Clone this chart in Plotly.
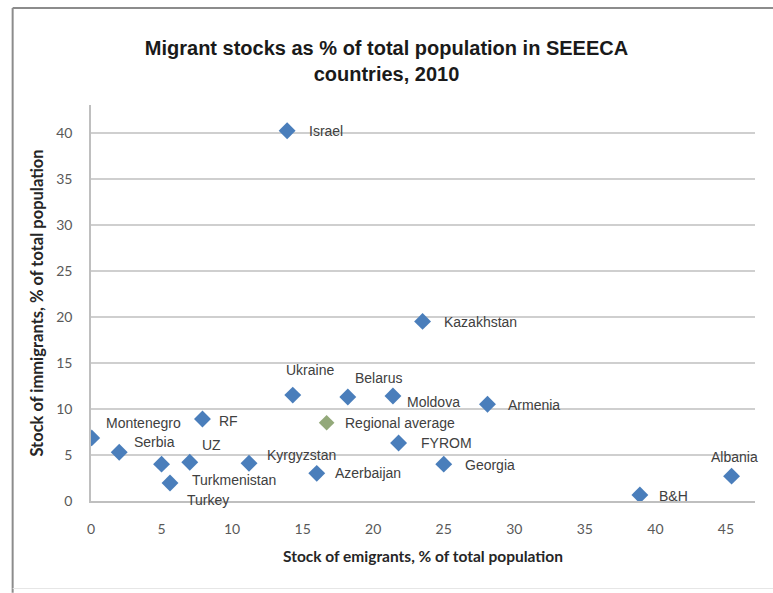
import plotly.graph_objects as go

# Migrant stock data, SEEECA countries, 2010 (% of total population)
countries = ["Israel", "Kazakhstan", "Ukraine", "Belarus", "Moldova", "Armenia",
             "FYROM", "Georgia", "Azerbaijan", "Kyrgyzstan", "Montenegro", "Serbia",
             "Turkmenistan", "UZ", "Turkey", "RF", "Albania", "B&H"]
emigrants = [13.9, 23.5, 14.3, 18.2, 21.4, 28.1,
             21.8, 25.0, 16.0, 11.2, 0.05, 2.0,
             5.0, 7.0, 5.6, 7.9, 45.4, 38.9]
immigrants = [40.2, 19.5, 11.5, 11.3, 11.4, 10.5,
              6.3, 4.0, 3.0, 4.1, 6.85, 5.3,
              4.0, 4.2, 1.95, 8.9, 2.7, 0.65]

avg_label = "Regional average"
avg_emigrants = [16.7]
avg_immigrants = [8.5]

x_ticks = [0, 5, 10, 15, 20, 25, 30, 35, 40, 45]
y_ticks = [0, 5, 10, 15, 20, 25, 30, 35, 40]

# label placement (pixel shift from marker, anchor)
label_style = {
    "Israel": (20, 0, "left"),
    "Kazakhstan": (19, -1, "left"),
    "Ukraine": (-9, 25, "left"),
    "Belarus": (5, 19, "left"),
    "Moldova": (12, -6, "left"),
    "Armenia": (19, -1, "left"),
    "FYROM": (20, 0, "left"),
    "Georgia": (19, -1, "left"),
    "Azerbaijan": (16, 0, "left"),
    "Kyrgyzstan": (16, 8, "left"),
    "Montenegro": (12, 15, "left"),
    "Serbia": (13, 10, "left"),
    "Turkmenistan": (28, -16, "left"),
    "UZ": (10, 17, "left"),
    "Turkey": (15, -17, "left"),
    "RF": (15, -2, "left"),
    "Albania": (3, 19, "center"),
    "B&H": (17, -1, "left"),
}

label_font = dict(family="Liberation Sans, Arial, sans-serif", size=14, color="#404040")

fig = go.Figure()
fig.add_trace(go.Scatter(
    x=emigrants, y=immigrants, mode="markers", text=countries,
    marker=dict(symbol="diamond", size=13, color="#4a7ebb",
                line=dict(width=0)),
    showlegend=False, hoverinfo="text",
))
fig.add_trace(go.Scatter(
    x=avg_emigrants, y=avg_immigrants, mode="markers", text=[avg_label],
    marker=dict(symbol="diamond", size=12, color="#93a97a",
                line=dict(width=0)),
    showlegend=False, hoverinfo="text",
))

annotations = []
for name, xv, yv in zip(countries, emigrants, immigrants):
    dx, dy, anchor = label_style[name]
    annotations.append(dict(x=xv, y=yv, text=name, showarrow=False,
                            xanchor=anchor, yanchor="middle",
                            xshift=dx, yshift=dy, font=label_font))
annotations.append(dict(x=avg_emigrants[0], y=avg_immigrants[0], text=avg_label,
                        showarrow=False, xanchor="left", yanchor="middle",
                        xshift=16, yshift=0, font=label_font))

# outer chart frame
frame = [
    dict(type="line", xref="paper", yref="paper", x0=-0.118, x1=1.05,
         y0=1.245, y1=1.245, line=dict(color="#8c8c8c", width=2)),
    dict(type="line", xref="paper", yref="paper", x0=-0.118, x1=-0.118,
         y0=-0.232, y1=1.245, line=dict(color="#8c8c8c", width=2)),
    dict(type="line", xref="paper", yref="paper", x0=-0.118, x1=1.05,
         y0=-0.221, y1=-0.221, line=dict(color="#e6e6e6", width=1)),
]

fig.update_layout(
    width=773, height=593,
    margin=dict(l=91, r=18, t=105, b=92),
    paper_bgcolor="white", plot_bgcolor="white",
    title=dict(
        text="<b>Migrant stocks as % of total population in SEEECA<br>countries, 2010</b>",
        x=0.5, xanchor="center", y=0.908, yanchor="middle",
        font=dict(family="Liberation Sans, Arial, sans-serif", size=20, color="#1a1a1a"),
    ),
    annotations=annotations,
    shapes=frame,
    xaxis=dict(
        range=[0, 47.06], tickvals=x_ticks, showgrid=False, zeroline=False,
        showline=True, linecolor="#bfbfbf", linewidth=1.5,
        ticks="", ticklabelstandoff=14,
        tickfont=dict(family="Lato, sans-serif", size=14, color="#595959"),
        title=dict(text="<b>Stock of emigrants, % of total population</b>",
                   font=dict(family="Lato, sans-serif", size=15.5, color="#262626"),
                   standoff=16),
    ),
    yaxis=dict(
        range=[0, 43.0], tickvals=y_ticks, showgrid=True, gridcolor="#cfcfcf",
        gridwidth=1.5, zeroline=False,
        showline=True, linecolor="#bfbfbf", linewidth=1.5,
        ticks="", ticklabelstandoff=14,
        tickfont=dict(family="Lato, sans-serif", size=14, color="#595959"),
        title=dict(text="<b>Stock of immigrants, % of total population</b>",
                   font=dict(family="Lato, sans-serif", size=16.5, color="#262626"),
                   standoff=8),
    ),
)

fig.write_html("out.html")
